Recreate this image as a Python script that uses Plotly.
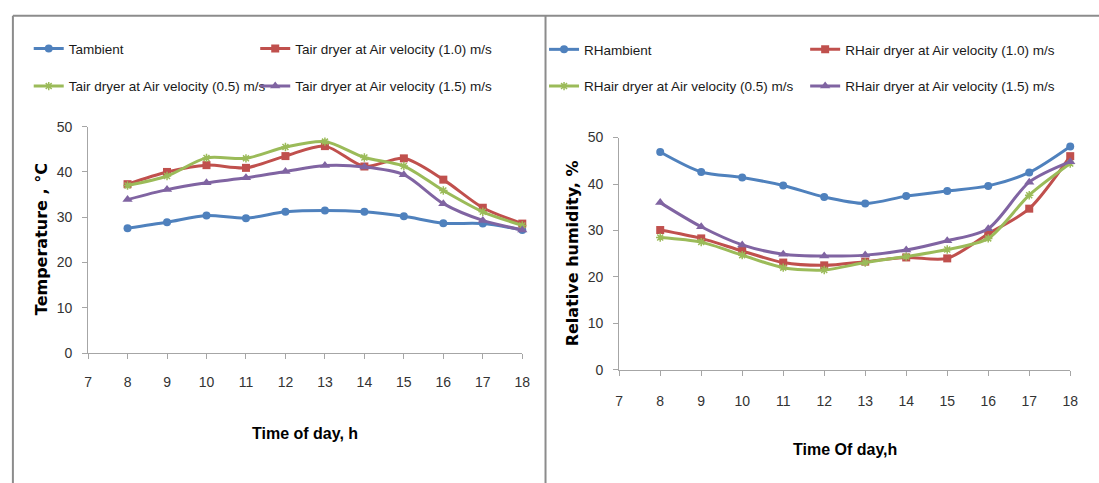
import plotly.graph_objects as go

hours = [8, 9, 10, 11, 12, 13, 14, 15, 16, 17, 18]

t_ambient = [27.6, 28.9, 30.4, 29.8, 31.2, 31.5, 31.2, 30.2, 28.7, 28.6, 27.2]
t_v10 = [37.3, 40.0, 41.5, 40.9, 43.5, 45.7, 41.2, 43.0, 38.3, 32.1, 28.6]
t_v05 = [37.0, 39.1, 43.1, 43.0, 45.5, 46.7, 43.2, 41.3, 35.9, 31.2, 28.2]
t_v15 = [33.9, 36.1, 37.6, 38.7, 40.1, 41.4, 41.1, 39.4, 33.0, 29.3, 27.2]

rh_ambient = [46.9, 42.6, 41.4, 39.7, 37.2, 35.8, 37.4, 38.5, 39.6, 42.5, 48.1]
rh_v10 = [30.1, 28.3, 25.6, 23.1, 22.5, 23.3, 24.2, 24.0, 29.3, 34.7, 46.0]
rh_v05 = [28.5, 27.5, 24.7, 22.0, 21.5, 23.1, 24.4, 25.9, 28.3, 37.6, 44.4]
rh_v15 = [36.0, 30.8, 26.9, 24.9, 24.5, 24.7, 25.8, 27.8, 30.4, 40.4, 44.8]

x_ticks = list(range(7, 19))
y_ticks = [0, 10, 20, 30, 40, 50]

W, H = 1099, 483
NARROW = "Liberation Sans, Arial, sans-serif"
BOLD = "DejaVu Sans, Verdana, sans-serif"

BLUE, RED, GREEN, PURPLE = "#4F81BD", "#C0504D", "#9BBB59", "#8064A2"

def px(x):
    return x / W

def py(y):
    return 1 - y / H

fig = go.Figure()

series = [
    # (x axis, y axis, values, name, color, symbol, legend, lx, ly)
    ("x", "y", t_ambient, "Tambient", BLUE, "circle", "legend", 25, 42),
    ("x", "y", t_v10, "Tair dryer at Air velocity (1.0) m/s", RED, "square", "legend2", 254, 42),
    ("x", "y", t_v05, "Tair dryer at Air velocity (0.5) m/s", GREEN, "asterisk-open", "legend3", 25, 81),
    ("x", "y", t_v15, "Tair dryer at Air velocity (1.5) m/s", PURPLE, "triangle-up", "legend4", 254, 81),
    ("x2", "y2", rh_ambient, "RHambient", BLUE, "circle", "legend5", 546, 43),
    ("x2", "y2", rh_v10, "RHair dryer at Air velocity (1.0) m/s", RED, "square", "legend6", 810, 43),
    ("x2", "y2", rh_v05, "RHair dryer at Air velocity (0.5) m/s", GREEN, "asterisk-open", "legend7", 546, 81),
    ("x2", "y2", rh_v15, "RHair dryer at Air velocity (1.5) m/s", PURPLE, "triangle-up", "legend8", 810, 81),
]

legend_layouts = {}
for xa, ya, vals, name, color, sym, leg, lx, ly in series:
    msize = 8
    if sym == "triangle-up":
        msize = 9
    if "asterisk" in sym:
        msize = 7
    marker = dict(symbol=sym, size=msize, color=color,
                  line=dict(color=color, width=1.5 if "asterisk" in sym else 0))
    fig.add_trace(go.Scatter(
        x=hours, y=vals, name=name, xaxis=xa, yaxis=ya,
        mode="lines+markers", line=dict(color=color, width=3, shape="spline", smoothing=0.8),
        marker=marker, cliponaxis=False, legend=leg,
    ))
    legend_layouts[leg] = dict(
        x=px(lx), y=py(ly), xanchor="left", yanchor="middle",
        bgcolor="rgba(0,0,0,0)", borderwidth=0,
        font=dict(family=NARROW, size=13.5, color="#1a1a1a"),
        itemwidth=30,
    )

axis_common = dict(
    showgrid=False, zeroline=False, showline=True, linecolor="#A6A6A6", linewidth=1,
    ticks="outside", tickcolor="#A6A6A6", ticklen=5, tickwidth=1,
    tickfont=dict(family=NARROW, size=14, color="#333333"),
)

fig.update_layout(
    width=W, height=H, margin=dict(l=0, r=0, t=0, b=0),
    paper_bgcolor="white", plot_bgcolor="white", showlegend=True,
    xaxis=dict(domain=[px(85), px(524)], range=[7, 18], tickvals=x_ticks, anchor="y",
               ticklabelstandoff=11, **axis_common),
    yaxis=dict(domain=[py(357), py(122.7)], range=[0, 50], tickvals=y_ticks, anchor="x",
               ticklabelstandoff=7, **axis_common),
    xaxis2=dict(domain=[px(622), px(1078)], range=[7, 18], tickvals=x_ticks, anchor="y2",
                ticklabelstandoff=13, **axis_common),
    yaxis2=dict(domain=[py(374.3), py(134)], range=[0, 50], tickvals=y_ticks, anchor="x2",
                ticklabelstandoff=7, **axis_common),
    **legend_layouts,
)

annotations = [
    dict(text="<b>Temperature , °C</b>", x=px(38), y=py(239.5), textangle=-90,
         font=dict(family=BOLD, size=16, color="#000")),
    dict(text="<b>Relative humidity, %</b>", x=px(575), y=py(254), textangle=-90,
         font=dict(family=BOLD, size=16, color="#000")),
    dict(text="<b>Time of day, h</b>", x=px(304.5), y=py(440),
         font=dict(family=NARROW, size=16, color="#000")),
    dict(text="<b>Time Of day,h</b>", x=px(850), y=py(457),
         font=dict(family=NARROW, size=16, color="#000")),
]
for a in annotations:
    a.update(xref="paper", yref="paper", showarrow=False, xanchor="center", yanchor="middle")
fig.update_layout(annotations=annotations)

border = dict(color="#8C8C8C", width=2)
shapes = [
    dict(type="line", x0=px(9), x1=px(9), y0=-0.02, y1=py(8)),
    dict(type="line", x0=px(9), x1=1.01, y0=py(8), y1=py(8)),
    dict(type="line", x0=px(547.5), x1=px(547.5), y0=-0.02, y1=py(8)),
]
for s in shapes:
    s.update(xref="paper", yref="paper", line=border)
fig.update_layout(shapes=shapes)

fig.write_html("out.html")
